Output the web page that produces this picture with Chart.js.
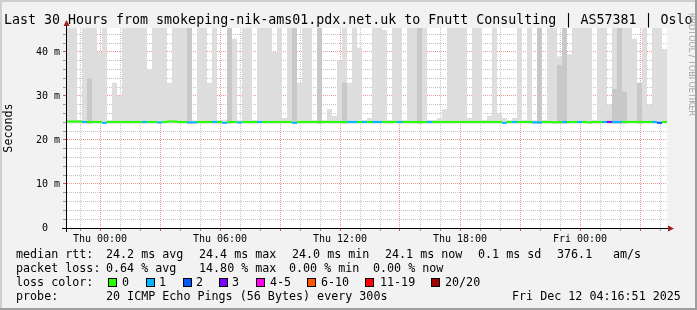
<!DOCTYPE html>
<html>
<head>
<meta charset="utf-8">
<script src="https://cdn.jsdelivr.net/npm/chart.js@4.4.1/dist/chart.umd.min.js"></script>
<style>
html,body{margin:0;padding:0;background:#f2f2f2;}
#wrap{position:relative;width:697px;height:310px;overflow:hidden;background:#f2f2f2;}
#c{position:absolute;left:0;top:0;}
.t{position:absolute;font-family:"DejaVu Sans Mono",monospace;color:#000;white-space:pre;font-size:11.7px;line-height:14px;}
#title{position:absolute;left:4px;top:12px;font-family:"DejaVu Sans Mono",monospace;font-size:13.3px;line-height:16px;white-space:pre;color:#000;}
.box{position:absolute;width:9px;height:9px;box-sizing:border-box;border:1px solid #000;}
#wm{position:absolute;left:687px;top:13px;font-family:"DejaVu Sans",sans-serif;font-size:8px;line-height:9px;color:#a0a0a0;writing-mode:vertical-rl;white-space:pre;}
.bd{position:absolute;}
</style>
</head>
<body>
<div id="wrap">
<canvas id="c" width="697" height="310"></canvas>
<div id="title">Last 30 Hours from smokeping-nik-ams01.pdx.net.uk to Fnutt Consulting | AS57381 | Oslo</div>
<div id="wm">RRDTOOL / TOBI OETIKER</div>
<div class="bd" style="left:0;top:0;width:697px;height:2px;background:#cfcfcf"></div>
<div class="bd" style="left:0;top:0;width:2px;height:310px;background:#cfcfcf"></div>
<div class="bd" style="left:0;top:308px;width:697px;height:2px;background:#9e9e9e"></div>
<div class="bd" style="left:695px;top:0;width:2px;height:310px;background:#9e9e9e"></div>
</div>
<script>
// ---- time axis: 15-minute bins, minutes relative to Thu 00:00 ----
const binStartMinutes = -99;     // first bin starts Wed 22:21
const binMinutes = 15;
const axisMin = -102, axisMax = 1701;

// ---- smoke (ms): top of light smoke, top of darker smoke (0 = none) ----
const smokeFloor = 23.7;
const smokeMax = [
 46,46,24.5,46,46,46,40,46,24.5,33,
 30,46,46,46,46,46,36,46,46,46,
 33,46,46,46,46,24.5,46,46,33,46,
 24.5,24.6,46,43,24.5,46,46,24.5,46,46,
 46,40,46,25,46,46,33,46,46,24.5,
 46,24.5,27,25.5,38,46,33,46,41,24.5,
 25,46,46,45,24.5,46,46,24.5,46,46,
 46,46,24.5,24.5,25,27,46,46,46,46,
 25,46,46,24.5,25.5,46,26,25,24.5,25,
 46,24.5,46,24.5,46,24.5,46,46,39,46,
 39.5,46,46,46,46,24.5,46,46,28,46,
 46,46,46,43,33,46,28,46,46,40.7
];
const smokeDark = [
 0,0,0,0,34,0,0,0,0,0,
 0,0,0,0,0,0,0,0,0,0,
 0,0,0,0,46,0,0,0,0,0,
 0,0,46,0,0,0,0,0,0,0,
 0,0,0,0,0,46,0,0,0,0,
 46,0,0,0,0,33,0,0,0,0,
 0,0,0,0,0,0,0,0,0,0,
 46,0,0,0,0,0,0,0,0,0,
 0,0,0,0,0,0,0,0,0,0,
 0,0,0,0,46,0,0,0,37,46,
 0,0,0,0,0,0,0,0,0,31.6,
 46,31,0,0,33,0,0,0,0,0
];
// ---- median rtt (ms) ----
const median = [
 24.2,24.2,24.2,24.1,24.1,24.1,24.1,23.9,24.1,24.1,
 24.1,24.1,24.1,24.1,24.1,24.1,24.1,24.1,24.0,24.1,
 24.2,24.2,24.1,24.1,24.0,24.0,24.1,24.1,24.1,24.1,
 24.1,23.9,24.1,24.1,24.0,24.1,24.1,24.1,24.1,24.1,
 24.1,24.1,24.1,24.1,24.1,23.9,24.1,24.1,24.1,24.1,
 24.1,24.1,24.1,24.1,24.1,24.1,24.1,24.1,24.1,24.1,
 24.1,24.1,24.1,24.1,24.1,24.1,24.1,24.1,24.1,24.1,
 24.1,24.1,24.1,24.1,24.1,24.1,24.1,24.1,24.1,24.1,
 24.1,24.1,24.1,24.1,24.1,24.1,24.1,23.9,24.1,24.1,
 24.1,24.1,24.1,24.0,24.0,24.1,24.1,24.0,24.1,24.1,
 24.1,24.1,24.1,24.1,24.0,24.1,24.1,24.1,24.1,24.1,
 24.1,24.1,24.1,24.1,24.1,24.1,24.1,24.1,23.9,24.1
];
// ---- packet loss (pings lost of 20) ----
const loss = [
 0,0,0,1,0,0,0,1,0,0,
 0,0,0,0,0,1,0,0,1,0,
 0,0,0,0,1,1,0,0,0,1,
 0,1,0,0,1,0,0,0,1,0,
 0,0,0,0,0,1,0,0,0,0,
 0,0,0,0,0,0,1,1,0,1,
 0,1,1,0,0,0,1,0,0,0,
 0,0,1,0,0,0,0,0,0,0,
 0,0,0,0,0,0,0,1,0,1,
 0,0,0,1,1,0,0,0,0,1,
 0,0,1,0,0,0,0,1,3,1,
 1,0,0,0,0,0,0,1,2,0
];

const lossLabels = ['0','1','2','3','4-5','6-10','11-19','20/20'];
const lossColors = ['#26ff00','#00b8ff','#0059ff','#7e00ff','#ff00ea','#ff5500','#ff0000','#a10000'];
const xTickValues = [0, 360, 720, 1080, 1440];
const xTickLabels = ['Thu 00:00','Thu 06:00','Thu 12:00','Thu 18:00','Fri 00:00'];
const yTickValues = [0, 10, 20, 30, 40];
const yTickLabels = ['0  ','10 m','20 m','30 m','40 m'];

const footerText = [
 [247, [[16,'median rtt:'],[106,'24.2 ms avg'],[199,'24.4 ms max'],[292,'24.0 ms min'],[385,'24.1 ms now'],[478,'0.1 ms sd'],[557,'376.1'],[613,'am/s']]],
 [261, [[16,'packet loss:'],[106,'0.64 % avg'],[199,'14.80 % max'],[289,'0.00 % min'],[373,'0.00 % now']]],
 [275, [[16,'loss color:']]],
 [289, [[16,'probe:'],[106,'20 ICMP Echo Pings (56 Bytes) every 300s'],[512,'Fri Dec 12 04:16:51 2025']]]
];
const legendBoxX = [108,146,183,219,256,307,365,431];
const legendLabelX = [122,159,196,232,270,321,380,445];

// ---- footer / legend as text ----
const wrap = document.getElementById('wrap');
footerText.forEach(([top, chunks]) => {
  chunks.forEach(([x, s]) => {
    const d = document.createElement('div');
    d.className = 't'; d.style.left = x + 'px'; d.style.top = top + 'px'; d.textContent = s;
    wrap.appendChild(d);
  });
});
lossLabels.forEach((lab, i) => {
  const b = document.createElement('div');
  b.className = 'box'; b.style.left = legendBoxX[i] + 'px'; b.style.top = '278px'; b.style.background = lossColors[i];
  wrap.appendChild(b);
  const d = document.createElement('div');
  d.className = 't'; d.style.left = legendLabelX[i] + 'px'; d.style.top = '275px'; d.textContent = lab;
  wrap.appendChild(d);
});

function lossIndex(l) {
  if (l <= 3) return l;
  if (l <= 5) return 4;
  if (l <= 10) return 5;
  if (l <= 19) return 6;
  return 7;
}

const binCenter = smokeMax.map((_, i) => binStartMinutes + binMinutes * i + binMinutes / 2);

const GRID_GRAY = 'rgba(120,120,120,0.45)';
const GRID_RED = 'rgba(228,60,60,0.55)';
const MONO = '"DejaVu Sans Mono", monospace';

const canvasBg = {
  id: 'canvasBg',
  beforeDraw(chart) {
    const {ctx, chartArea: a} = chart;
    ctx.save();
    ctx.fillStyle = '#ffffff';
    ctx.fillRect(a.left, a.top, a.right - a.left, a.bottom - a.top);
    ctx.restore();
  }
};

const arrows = {
  id: 'arrows',
  afterDraw(chart) {
    const {ctx, chartArea: a} = chart;
    ctx.save();
    ctx.strokeStyle = '#000';
    ctx.lineWidth = 1;
    ctx.beginPath();
    ctx.moveTo(a.left - 4, a.bottom + 0.5); ctx.lineTo(a.right + 2, a.bottom + 0.5);
    ctx.moveTo(a.left + 0.5, a.bottom + 4); ctx.lineTo(a.left + 0.5, a.top - 4);
    ctx.stroke();
    ctx.fillStyle = '#a01e1e';
    ctx.beginPath();
    ctx.moveTo(a.left + 0.5, a.top - 8); ctx.lineTo(a.left - 2.5, a.top - 2); ctx.lineTo(a.left + 3.5, a.top - 2); ctx.closePath();
    ctx.fill();
    ctx.beginPath();
    ctx.moveTo(a.right + 7, a.bottom + 0.5); ctx.lineTo(a.right + 1, a.bottom - 2.5); ctx.lineTo(a.right + 1, a.bottom + 3.5); ctx.closePath();
    ctx.fill();
    ctx.restore();
  }
};

const barCommon = {grouped: false, barPercentage: 1, categoryPercentage: 1, inflateAmount: 0, borderWidth: 0, clip: 0};

new Chart(document.getElementById('c'), {
  type: 'bar',
  data: {
    datasets: [
      Object.assign({
        label: 'smoke',
        data: binCenter.map((t, i) => ({x: t, y: [smokeFloor, smokeMax[i]]})),
        backgroundColor: '#dddddd', order: 3
      }, barCommon),
      Object.assign({
        label: 'smoke dark',
        data: binCenter.map((t, i) => ({x: t, y: smokeDark[i] > 0 ? [smokeFloor, smokeDark[i]] : null})),
        backgroundColor: '#c8c8c8', order: 2
      }, barCommon),
      Object.assign({
        label: 'median rtt',
        data: binCenter.map((t, i) => ({x: t, y: [median[i] - 0.23, median[i] + 0.23]})),
        backgroundColor: loss.map(l => lossColors[lossIndex(l)]), order: 1
      }, barCommon)
    ]
  },
  options: {
    responsive: false,
    animation: false,
    devicePixelRatio: 1,
    layout: {padding: {top: 28, right: 30, bottom: 0, left: 0}},
    plugins: {legend: {display: false}, tooltip: {enabled: false}, title: {display: false}},
    scales: {
      x: {
        type: 'linear', min: axisMin, max: axisMax, offset: false, z: 1,
        afterBuildTicks: s => {
          const t = [];
          for (let v = -60; v <= 1680; v += 60) t.push({value: v});
          s.ticks = t;
        },
        afterFit: s => { s.height = 82; },
        grid: {
          offset: false,
          color: c => (c.tick && c.tick.value % 180 === 0) ? GRID_RED : GRID_GRAY,
          tickColor: c => (c.tick && c.tick.value % 180 === 0) ? '#e05050' : '#999999',
          tickLength: 3, lineWidth: 1
        },
        border: {display: true, color: '#000', width: 1, dash: [1, 1]},
        ticks: {
          autoSkip: false, maxRotation: 0, minRotation: 0, padding: 2,
          font: {family: MONO, size: 10}, color: '#000',
          callback: v => { const k = xTickValues.indexOf(v); return k >= 0 ? xTickLabels[k] : ''; }
        }
      },
      y: {
        type: 'linear', min: 0, max: 45.45, z: 1,
        afterFit: s => { s.width = 66; },
        grid: {
          offset: false,
          color: c => (!c.tick || c.tick.value === 0) ? 'rgba(0,0,0,0)' : (c.tick.value % 10 === 0 ? GRID_RED : GRID_GRAY),
          tickColor: c => (c.tick && c.tick.value % 10 === 0) ? '#e05050' : '#999999',
          tickLength: 3, lineWidth: 1
        },
        border: {display: true, color: '#000', width: 1, dash: [1, 1]},
        ticks: {
          stepSize: 2, includeBounds: false, autoSkip: false, padding: 3,
          font: {family: MONO, size: 10}, color: '#000',
          callback: v => { const k = yTickValues.indexOf(v); return k >= 0 ? yTickLabels[k] : ''; }
        },
        title: {display: true, text: 'Seconds', color: '#000', font: {family: MONO, size: 11.7}, padding: {top: 2, bottom: 0}}
      }
    }
  },
  plugins: [canvasBg, arrows]
});
</script>
</body>
</html>
